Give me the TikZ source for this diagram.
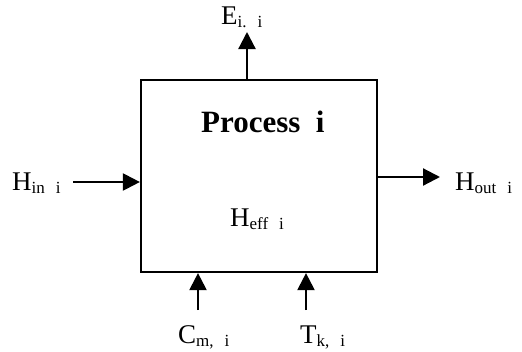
\documentclass[tikz,border=0pt]{standalone}
\usepackage{fontspec}
\setmainfont{Liberation Serif}
\usetikzlibrary{arrows.meta}
\newcommand{\lbl}[3]{{\fontsize{27}{27}\selectfont #1}\raisebox{-3.5pt}{\fontsize{17}{17}\selectfont #2\hspace{11pt}#3}}
\begin{document}
\begin{tikzpicture}[x=1pt,y=-1pt,
  flow/.style={line width=2.2pt,-{Triangle[length=17pt,width=17pt]}},
  lab/.style={inner sep=0pt,anchor=base west}]
\useasboundingbox (0,0) rectangle (522,351);
\node[draw,line width=2.2pt,minimum width=236pt,minimum height=192pt,inner sep=0pt] (box) at (259,176) {};
\node[lab] (title) at (201,132) {\fontsize{31}{31}\selectfont\bfseries Process\ \ i};
\node[lab] (heff) at (230,226) {\lbl{H}{eff}{i}};
\coordinate (etop) at (247,32);
\draw[flow] (box.north -| etop) -- (etop);
\node[lab] (e) at (221,24) {\lbl{E}{i.}{i}};
\coordinate (hinstart) at (73,182);
\draw[flow] (hinstart) -- (hinstart -| box.west);
\node[lab] (hin) at (12,190) {\lbl{H}{in}{i}};
\coordinate (houtend) at (440,177);
\draw[flow] (houtend -| box.east) -- (houtend);
\node[lab] (hout) at (455,190) {\lbl{H}{out}{i}};
\coordinate (cmstart) at (198,310);
\draw[flow] (cmstart) -- (cmstart |- box.south);
\node[lab] (cm) at (178,343) {\lbl{C}{m,}{i}};
\coordinate (tkstart) at (306,310);
\draw[flow] (tkstart) -- (tkstart |- box.south);
\node[lab] (tk) at (300,343) {\lbl{T}{k,}{i}};
\end{tikzpicture}
\end{document}
